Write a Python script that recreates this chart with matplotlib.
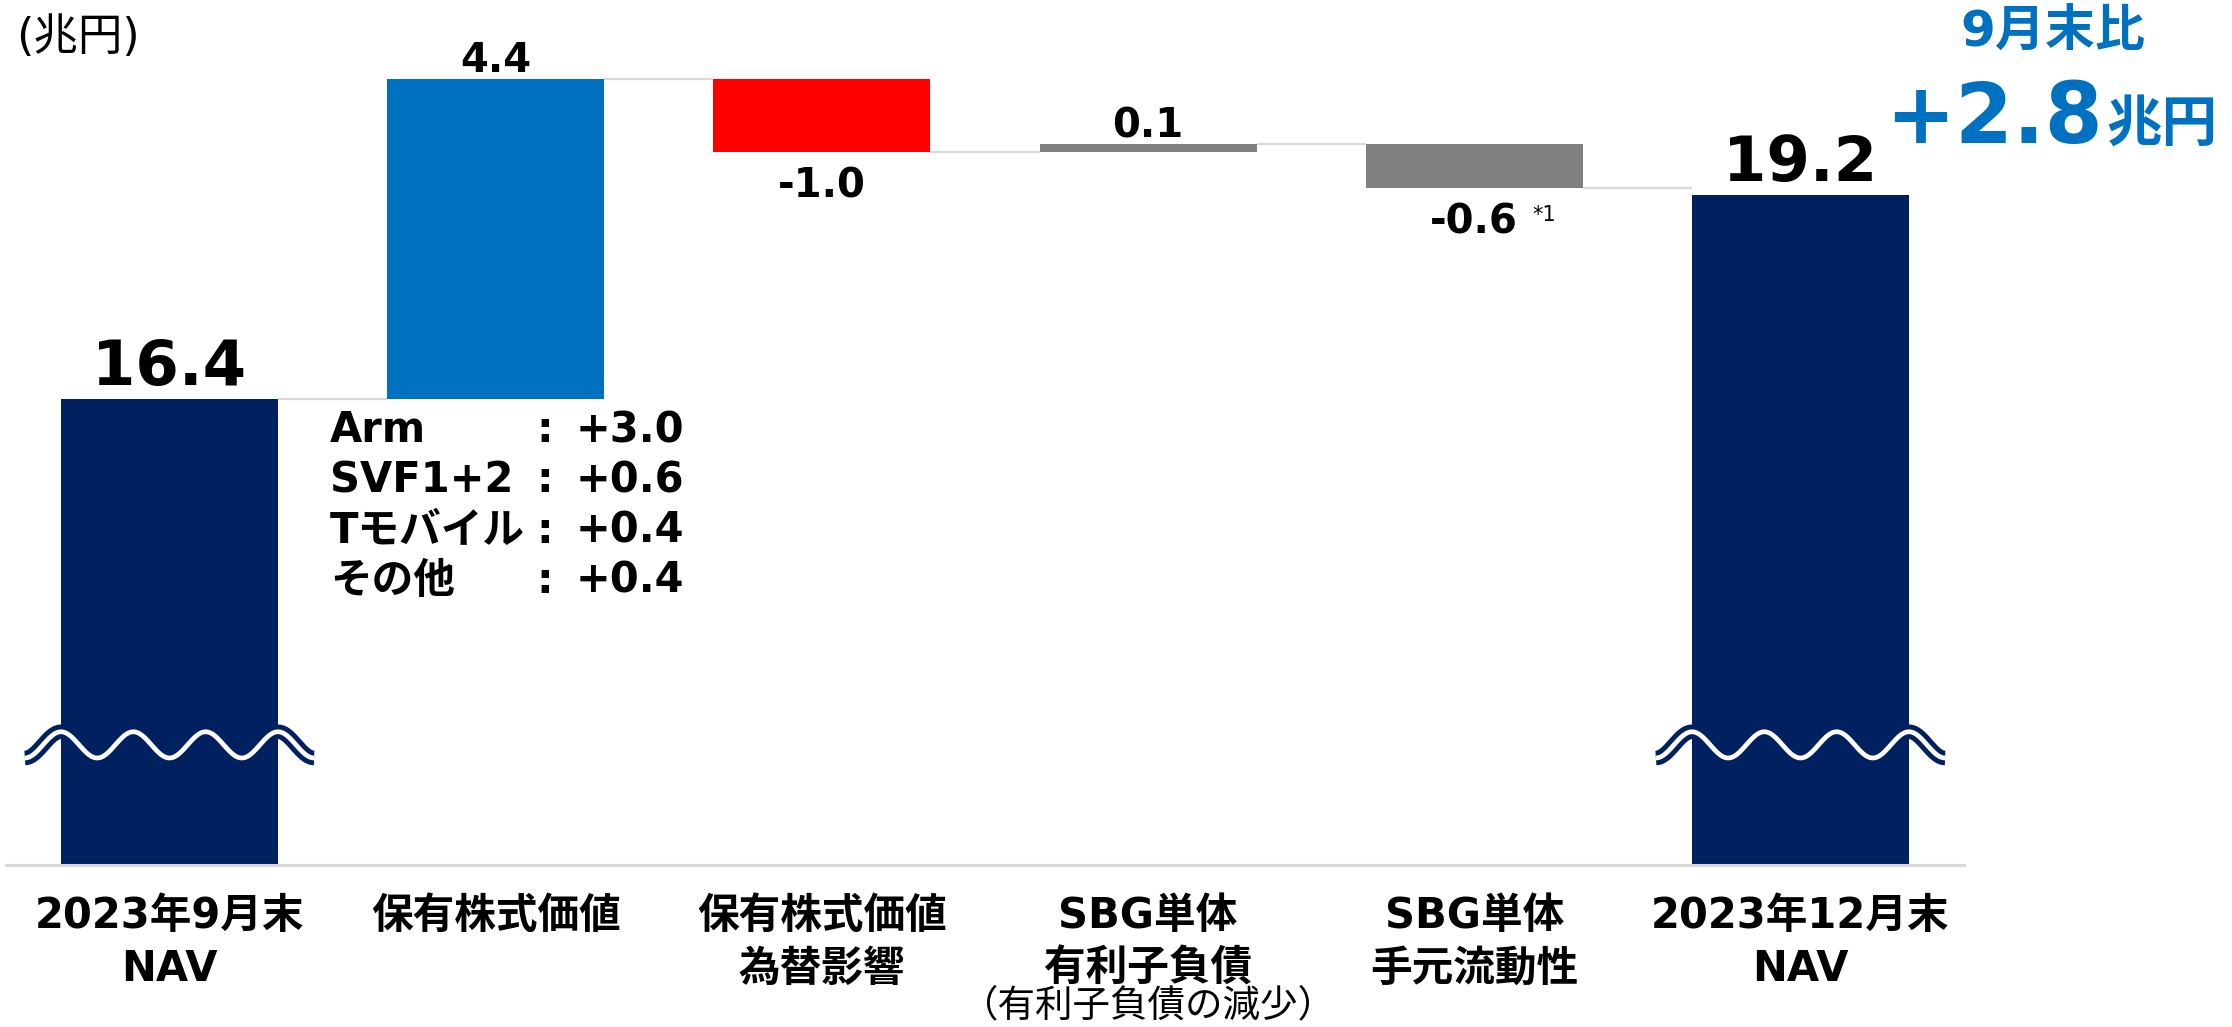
import numpy as np
import matplotlib
matplotlib.use("Agg")
import matplotlib.pyplot as plt
from matplotlib import patheffects as pe
from matplotlib.transforms import blended_transform_factory

plt.rcParams['font.family'] = ['DejaVu Sans', 'Noto Sans CJK JP']

# NAV bridge (兆円)
categories = ["2023年9月末\nNAV", "保有株式価値", "保有株式価値\n為替影響",
              "SBG単体\n有利子負債", "SBG単体\n手元流動性", "2023年12月末\nNAV"]
sub_labels = ["", "", "", "（有利子負債の減少）", "", ""]
values = [16.4, 4.4, -1.0, 0.1, -0.6, 19.2]
is_total = [True, False, False, False, False, True]
value_labels = ["16.4", "4.4", "-1.0", "0.1", "-0.6", "19.2"]
bar_colors = ["#002060", "#0070C0", "#FF0000", "#808080", "#808080", "#002060"]

# breakdown of the 保有株式価値 step
breakdown_names = ["Arm", "SVF1+2", "Tモバイル", "その他"]
breakdown_values = ["+3.0", "+0.6", "+0.4", "+0.4"]

NAVY = "#002060"
BLUE = "#0070C0"
W, H = 2232, 1027
y_base = 10.0          # axis starts here (broken axis)
px_per_unit = 72.8
bar_w = 0.665

fig = plt.figure(figsize=(W / 100, H / 100), dpi=100)
ax = fig.add_axes([6.4 / W, (H - 865) / H, 1957.2 / W, 11.7 * px_per_unit / H])
ax.set_xlim(-0.5, 5.5)
ax.set_ylim(y_base, y_base + 11.7)
ax.axis("off")


def fy(px):
    # pixel row from the top -> figure fraction
    return 1 - px / H


xt = blended_transform_factory(ax.transData, fig.transFigure)

# running totals for the waterfall
x = np.arange(len(values))
bottoms, ends = [], []
running = 0.0
for v, tot in zip(values, is_total):
    b = 0.0 if tot else running
    bottoms.append(b)
    running = v if tot else running + v
    ends.append(running)

ax.bar(x, values, bottom=bottoms, width=bar_w, color=bar_colors, zorder=2)

# connectors between bars
for i in range(len(values) - 1):
    ax.plot([x[i] + bar_w / 2, x[i + 1] - bar_w / 2], [ends[i], ends[i]],
            color="#D9D9D9", lw=1.6, zorder=1, solid_capstyle="butt")

# baseline
ax.plot([-0.5, 5.5], [y_base, y_base], color="#D9D9D9", lw=2.2, zorder=3,
        clip_on=False)

# value labels
for i, (v, lab) in enumerate(zip(values, value_labels)):
    top = max(bottoms[i], bottoms[i] + v)
    low = min(bottoms[i], bottoms[i] + v)
    if is_total[i]:
        ax.annotate(lab, (x[i], top), xytext=(0, 10), textcoords="offset points",
                    ha="center", va="baseline", fontsize=45, fontweight="bold")
    elif v >= 0:
        ax.annotate(lab, (x[i], top), xytext=(0, 5), textcoords="offset points",
                    ha="center", va="baseline", fontsize=29, fontweight="bold")
    else:
        ax.annotate(lab, (x[i], low), xytext=(0, -33), textcoords="offset points",
                    ha="center", va="baseline", fontsize=29, fontweight="bold")

fig.text(1532 / W, fy(221), "*1", fontsize=15, va="baseline")

# axis break marks on the total bars
def draw_break(xc, yc=11.65, amp=0.18):
    left, right = xc - bar_w / 2, xc + bar_w / 2
    period = bar_w / 3
    xs = np.linspace(left - period / 2, right + period / 2, 400)
    ys = yc + amp * np.cos(2 * np.pi * (xs - left) / period)
    ax.plot(xs, ys, color="white", lw=3.4, solid_capstyle="butt", zorder=4,
            path_effects=[pe.Stroke(linewidth=10.5, foreground=NAVY,
                                    capstyle="butt"), pe.Normal()])


for i, tot in enumerate(is_total):
    if tot:
        draw_break(x[i])

# category labels
for i, (cat, sub) in enumerate(zip(categories, sub_labels)):
    for j, line in enumerate(cat.split("\n")):
        ax.text(x[i], fy(928 + 53 * j), line, transform=xt, ha="center",
                va="baseline", fontsize=30, fontweight="bold")
    if sub:
        ax.text(x[i], fy(1016), sub, transform=xt, ha="center",
                va="baseline", fontsize=27)

# breakdown list under the 保有株式価値 bar
for j, (name, val) in enumerate(zip(breakdown_names, breakdown_values)):
    yy = fy(442 + 50.3 * j)
    ax.text(0.492, yy, name, transform=xt, ha="left", va="baseline",
            fontsize=30, fontweight="bold")
    ax.text(1.151, yy, ":", transform=xt, ha="center", va="baseline",
            fontsize=30, fontweight="bold")
    ax.text(1.245, yy, val, transform=xt, ha="left", va="baseline",
            fontsize=30, fontweight="bold")

# unit
fig.text(16 / W, fy(50), "(兆円)", fontsize=32, va="baseline")

# change vs. end of September
change = values[-1] - values[0]
fig.text(2053 / W, fy(47), "9月末比", fontsize=36, fontweight="bold",
         color=BLUE, ha="center", va="baseline")
fig.text(2103 / W, fy(143), f"{change:+.1f}", fontsize=60, fontweight="bold",
         color=BLUE, ha="right", va="baseline")
fig.text(2106 / W, fy(141), "兆円", fontsize=40, fontweight="bold",
         color=BLUE, ha="left", va="baseline")

fig.savefig("out.png", dpi=100, facecolor="white")
